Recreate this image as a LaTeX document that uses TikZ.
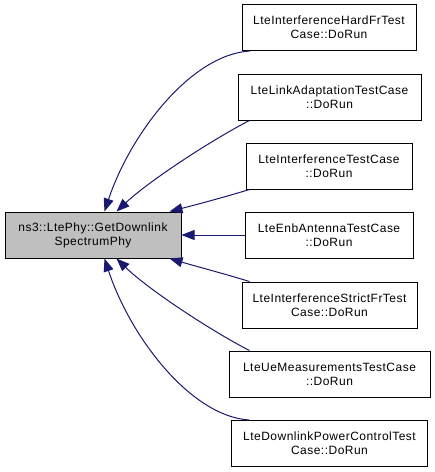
\documentclass[tikz,border=0pt]{standalone}
\usepackage{fontspec}
\setmainfont{Liberation Sans}[LetterSpace=4]
\usetikzlibrary{arrows.meta}
\definecolor{edgeblue}{HTML}{191970}
\definecolor{boxgray}{HTML}{BFBFBF}
\tikzset{
  box/.style={draw=black, line width=1pt, fill=white, inner sep=0pt, align=center,
    minimum height=46pt, font=\fontsize{12}{14}\selectfont},
  mainbox/.style={box, fill=boxgray},
  edge/.style={draw=edgeblue, line width=1pt, -{Triangle[length=13pt,width=10pt]}}
}
\begin{document}
\begin{tikzpicture}[x=1pt,y=-1pt]
\useasboundingbox (0,0) rectangle (435,472);
\node[mainbox, minimum width=176pt] (L) at (93,235) {ns3::LtePhy::GetDownlink\\SpectrumPhy};
\node[box, minimum width=174pt] (b1) at (329,27.5) {LteInterferenceHardFrTest\\Case::DoRun};
\node[box, minimum width=183pt] (b2) at (329.5,97) {LteLinkAdaptationTestCase\\::DoRun};
\node[box, minimum width=166pt] (b3) at (329,166) {LteInterferenceTestCase\\::DoRun};
\node[box, minimum width=168pt] (b4) at (329,235) {LteEnbAntennaTestCase\\::DoRun};
\node[box, minimum width=175pt] (b5) at (329.5,305) {LteInterferenceStrictFrTest\\Case::DoRun};
\node[box, minimum width=201pt] (b6) at (329.5,374) {LteUeMeasurementsTestCase\\::DoRun};
\node[box, minimum width=196pt] (b7) at (329.5,443.5) {LteDownlinkPowerControlTest\\Case::DoRun};
\draw[edge] ([xshift=8pt]b1.south west) .. controls (190,55) and (130,135) .. ([xshift=100pt]L.north west);
\draw[edge] ([xshift=12pt]b2.south west) .. controls (215,138) and (150,180) .. ([xshift=112pt]L.north west);
\draw[edge] ([xshift=4pt]b3.south west) .. controls (225,197) and (195,205) .. ([xshift=165pt]L.north west);
\draw[edge] (b4.west) -- (L.east);
\draw[edge] ([xshift=8pt]b5.north west) .. controls (225,274) and (195,266) .. ([xshift=165pt]L.south west);
\draw[edge] ([xshift=21pt]b6.north west) .. controls (215,333) and (150,291) .. ([xshift=112pt]L.south west);
\draw[edge] ([xshift=18pt]b7.north west) .. controls (190,416) and (130,336) .. ([xshift=100pt]L.south west);
\end{tikzpicture}
\end{document}
